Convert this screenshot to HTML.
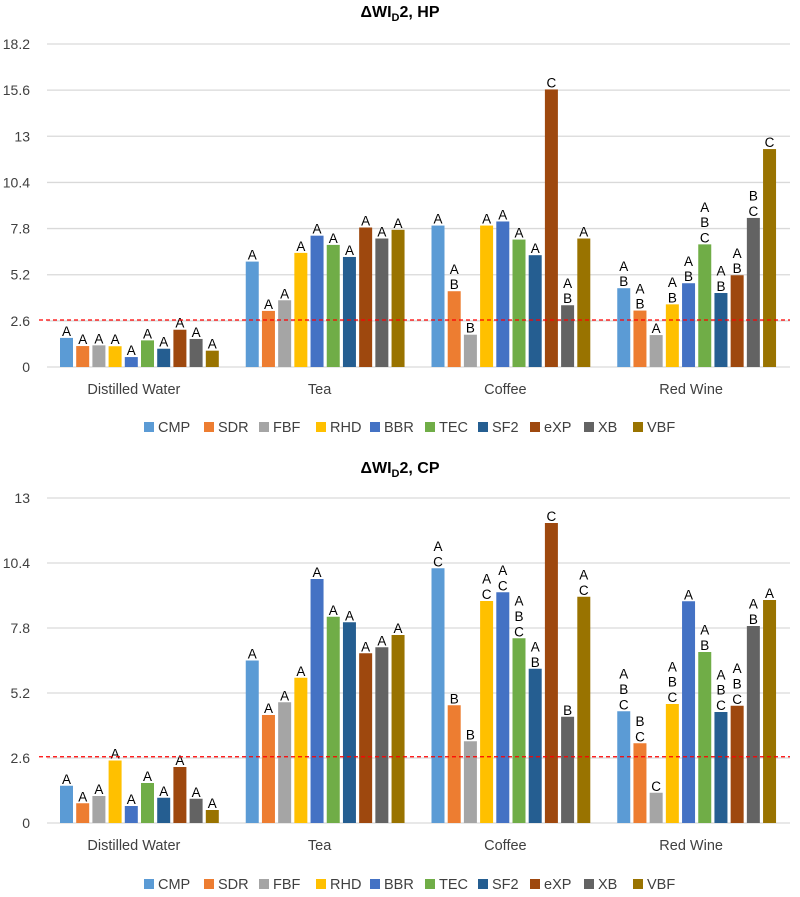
<!DOCTYPE html>
<html><head><meta charset="utf-8"><style>
body{margin:0;background:#fff;width:800px;height:892px;overflow:hidden;font-family:"Liberation Sans",sans-serif}
svg text{font-family:"Liberation Sans",sans-serif}
</style></head><body>
<svg id="chart" width="800" height="892" viewBox="0 0 800 892" xmlns="http://www.w3.org/2000/svg"></svg>
<script>
const categories = ["Distilled Water","Tea","Coffee","Red Wine"];
const seriesNames = ["CMP","SDR","FBF","RHD","BBR","TEC","SF2","eXP","XB","VBF"];
const seriesColors = ["#5b9bd5","#ed7d31","#a5a5a5","#ffc000","#4472c4","#70ad47","#255e91","#9e480e","#636363","#997300"];
const hpTicks = [0,2.6,5.2,7.8,10.4,13,15.6,18.2];
const cpTicks = [0,2.6,5.2,7.8,10.4,13];
const threshold = 2.65;
// HP values [category][series]
const hpDW = [1.64,1.18,1.22,1.17,0.56,1.5,1.03,2.1,1.58,0.92];
const hpTea = [5.94,3.16,3.76,6.43,7.4,6.88,6.2,7.86,7.24,7.73];
const hpCoffee = [7.97,4.27,1.82,7.97,8.2,7.18,6.3,15.64,3.48,7.24];
const hpWine = [4.44,3.18,1.8,3.53,4.72,6.91,4.17,5.17,8.4,12.28];
const hpLetters = [["A","A","A","A","A","A","A","A","A","A"],["A","A","A","A","A","A","A","A","A","A"],["A","AB","B","A","A","A","A","C","AB","A"],["AB","AB","A","AB","AB","ABC","AB","AB","BC","C"]];
// CP values
const cpDW = [1.49,0.79,1.08,2.5,0.68,1.6,1.01,2.24,0.97,0.52];
const cpTea = [6.5,4.32,4.83,5.81,9.76,8.25,8.03,6.79,7.03,7.52];
const cpCoffee = [10.19,4.71,3.27,8.88,9.23,7.39,6.17,12.0,4.25,9.05];
const cpWine = [4.47,3.19,1.21,4.76,8.87,6.84,4.44,4.69,7.88,8.92];
const cpLetters = [["A","A","A","A","A","A","A","A","A","A"],["A","A","A","A","A","A","A","A","A","A"],["AC","B","B","AC","AC","ABC","AB","C","B","AC"],["ABC","BC","C","ABC","A","AB","ABC","ABC","AB","A"]];

const NS="http://www.w3.org/2000/svg";
const svg=document.getElementById('chart');
function mk(tag,attrs,parent){const e=document.createElementNS(NS,tag);for(const k in attrs)e.setAttribute(k,attrs[k]);(parent||svg).appendChild(e);return e;}

function drawChart(cfg){
  const g=mk('g',{});
  
  
  const x0=47,x1=790,maxV=cfg.ticks[cfg.ticks.length-1];
  const y=v=>cfg.yBottom-(v/maxV)*(cfg.yBottom-cfg.yTop);
  const groupW=(x1-x0)/categories.length;
  const xBar=(c,s)=>x0+c*groupW+13+s*16.2;
  const t=mk('text',{x:400,y:cfg.titleY,'text-anchor':'middle','font-size':'16','font-weight':'bold',fill:'#000'},g);
  
  
  t.innerHTML='ΔWI<tspan font-size="11" dy="4">D</tspan><tspan dy="-4">2, '+cfg.label+'</tspan>';
  cfg.ticks.forEach(v=>{
    const l=mk('line',{x1:x0,x2:x1,y1:y(v),y2:y(v),stroke:'#d9d9d9','stroke-width':1.3},g);
    
    
    const tx=mk('text',{x:30,y:y(v)+5,'text-anchor':'end','font-size':'14',fill:'#404040'},g);
    
    
    tx.textContent=String(v);
  });
  cfg.data.forEach((vals,c)=>{
    vals.forEach((v,s)=>{
      const r=mk('rect',{x:xBar(c,s),y:y(v),width:13,height:cfg.yBottom-y(v),fill:seriesColors[s]},g);
      
      
      const letters=cfg.letters[c][s].split('');
      letters.forEach((ch,i)=>{
        const lt=mk('text',{x:xBar(c,s)+6.5,y:y(v)-2-(letters.length-1-i)*15.3,'text-anchor':'middle','font-size':'13.5',fill:'#000'},g);
        
        
        lt.textContent=ch;
      });
    });
    const cl=mk('text',{x:x0+c*groupW+groupW/2-6,y:cfg.yBottom+27,'text-anchor':'middle','font-size':'14.5',fill:'#404040'},g);
    
    
    cl.textContent=categories[c];
  });
  const th=mk('line',{x1:x0-8,x2:x1,y1:y(threshold),y2:y(threshold),stroke:'#ff0000','stroke-width':1.2,'stroke-dasharray':'4,3'},g);
  
  
  const lx=[144,204,259,316,370,425,478,530,584,633];
  seriesNames.forEach((n,s)=>{
    const lg=mk('g',{},g);
    
    
    mk('rect',{x:lx[s],y:cfg.legendY-10,width:10,height:10,fill:seriesColors[s]},lg);
    const tx=mk('text',{x:lx[s]+14,y:cfg.legendY,'font-size':'14.5',fill:'#404040'},lg);
    tx.textContent=n;
  });
}
drawChart({name:'hp-chart',label:'HP',ticks:hpTicks,yTop:44,yBottom:367,titleY:17,legendY:432,data:[hpDW,hpTea,hpCoffee,hpWine],letters:hpLetters});
drawChart({name:'cp-chart',label:'CP',ticks:cpTicks,yTop:498,yBottom:823,titleY:473,legendY:889,data:[cpDW,cpTea,cpCoffee,cpWine],letters:cpLetters});
</script>
</body></html>
